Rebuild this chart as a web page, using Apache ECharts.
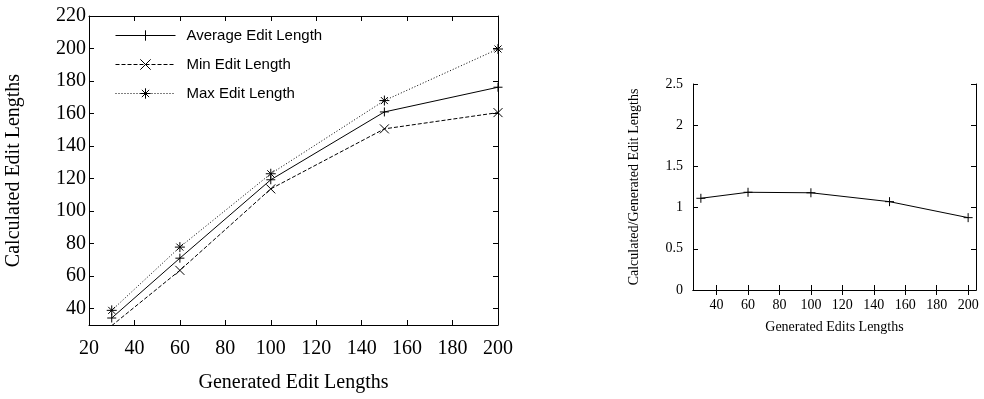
<!DOCTYPE html>
<html><head><meta charset="utf-8">
<script src="https://cdn.jsdelivr.net/npm/echarts@6/dist/echarts.min.js"></script>
<style>html,body{margin:0;padding:0;background:#fff}#c{width:984px;height:399px}</style>
</head><body><div id="c"></div>
<script>
const generated = [30, 60, 100, 150, 200];
const avgLen = [34.3, 71.1, 119.3, 161, 176.2];
const minLen = [29.6, 63.6, 113.7, 150.6, 160.6];
const maxLen = [39, 77.9, 123, 168, 199.7];
const ratio = [1.113, 1.186, 1.18, 1.072, 0.878];
const leftYTicks = [40, 60, 80, 100, 120, 140, 160, 180, 200, 220];
const rightXTicks = [40, 60, 80, 100, 120, 140, 160, 180, 200];

const PLUS = 'path://M0,5L10,5M5,0L5,10';
const CROSS = 'path://M0,0L10,10M10,0L0,10';
const STAR = 'path://M0,5L10,5M5,0L5,10M1.5,1.5L8.5,8.5M8.5,1.5L1.5,8.5';
const serif = 'Liberation Serif';
const pair = (xs, ys) => xs.map((x, i) => [x, ys[i]]);

const chart = echarts.init(document.getElementById('c'), null, {renderer: 'canvas'});
const lineAxis = {show: true, lineStyle: {color: '#000', width: 1}};
const tickIn = {show: true, inside: true, length: 5, lineStyle: {color: '#000', width: 1}};
function mk(name, data, sym, size, dash, xi, yi) {
  return {
    name, type: 'line', data, xAxisIndex: xi, yAxisIndex: yi,
    symbol: sym, symbolSize: size, showSymbol: true,
    lineStyle: {color: '#000', width: 1, type: dash},
    itemStyle: {color: '#000', borderColor: '#000', borderWidth: 1},
    emphasis: {disabled: true}, animation: false, z: 3
  };
}
chart.setOption({
  backgroundColor: '#fff',
  animation: false,
  grid: [
    {left: 89, right: 486, top: 16, bottom: 74, show: false},
    {left: 693, right: 8, top: 84, bottom: 109, show: false}
  ],
  legend: {
    data: ['Average Edit Length', 'Min Edit Length', 'Max Edit Length'],
    orient: 'vertical', left: 115, top: 28, padding: 0, itemWidth: 60, itemHeight: 13, itemGap: 14,
    itemStyle: {color: '#000', borderColor: '#000', borderWidth: 1},
    lineStyle: {width: 1},
    textStyle: {fontFamily: 'Liberation Sans', fontSize: 15, color: '#000', padding: [0, 0, 0, 6]},
    selectedMode: false
  },
  xAxis: [
    {gridIndex: 0, type: 'value', min: 20, max: 200, interval: 20, position: 'bottom',
     name: 'Generated Edit Lengths', nameLocation: 'middle', nameGap: 48,
     nameTextStyle: {fontFamily: serif, fontSize: 20, color: '#000'},
     axisLine: lineAxis, axisTick: tickIn, splitLine: {show: false},
     axisLabel: {fontFamily: serif, fontSize: 20, color: '#000', margin: 14}},
    {gridIndex: 0, type: 'value', min: 20, max: 200, interval: 20, position: 'top',
     axisLine: lineAxis, axisTick: tickIn, splitLine: {show: false}, axisLabel: {show: false}},
    {gridIndex: 1, type: 'value', min: 25, max: 205, position: 'bottom',
     name: 'Generated Edits Lengths', nameLocation: 'middle', nameGap: 30,
     nameTextStyle: {fontFamily: serif, fontSize: 14, color: '#000'},
     axisLine: lineAxis, axisTick: Object.assign({}, tickIn, {customValues: rightXTicks}), splitLine: {show: false},
     axisLabel: {fontFamily: serif, fontSize: 14, color: '#000', margin: 8, customValues: rightXTicks}},
    {gridIndex: 1, type: 'value', min: 25, max: 205, position: 'top',
     axisLine: lineAxis, axisTick: Object.assign({}, tickIn, {customValues: rightXTicks}), splitLine: {show: false}, axisLabel: {show: false}}
  ],
  yAxis: [
    {gridIndex: 0, type: 'value', min: 30, max: 220, position: 'left',
     name: 'Calculated Edit Lengths', nameLocation: 'middle', nameGap: 65, nameRotate: 90,
     nameTextStyle: {fontFamily: serif, fontSize: 20, color: '#000'},
     axisLine: lineAxis, axisTick: Object.assign({}, tickIn, {customValues: leftYTicks}), splitLine: {show: false},
     axisLabel: {fontFamily: serif, fontSize: 20, color: '#000', margin: 3, customValues: leftYTicks}},
    {gridIndex: 0, type: 'value', min: 30, max: 220, position: 'right',
     axisLine: lineAxis, axisTick: Object.assign({}, tickIn, {customValues: leftYTicks}), splitLine: {show: false}, axisLabel: {show: false}},
    {gridIndex: 1, type: 'value', min: 0, max: 2.5, interval: 0.5, position: 'left',
     name: 'Calculated/Generated Edit Lengths', nameLocation: 'middle', nameGap: 52, nameRotate: 90,
     nameTextStyle: {fontFamily: serif, fontSize: 14, color: '#000'},
     axisLine: lineAxis, axisTick: tickIn, splitLine: {show: false},
     axisLabel: {fontFamily: serif, fontSize: 14, color: '#000', margin: 10}},
    {gridIndex: 1, type: 'value', min: 0, max: 2.5, interval: 0.5, position: 'right',
     axisLine: lineAxis, axisTick: tickIn, splitLine: {show: false}, axisLabel: {show: false}}
  ],
  series: [
    mk('Average Edit Length', pair(generated, avgLen), PLUS, 9, 'solid', 0, 0),
    mk('Min Edit Length', pair(generated, minLen), CROSS, 9, [4, 2], 0, 0),
    mk('Max Edit Length', pair(generated, maxLen), STAR, 10, [1, 2], 0, 0),
    mk('Ratio', pair(generated, ratio), PLUS, 9, 'solid', 2, 2)
  ]
});
</script></body></html>
